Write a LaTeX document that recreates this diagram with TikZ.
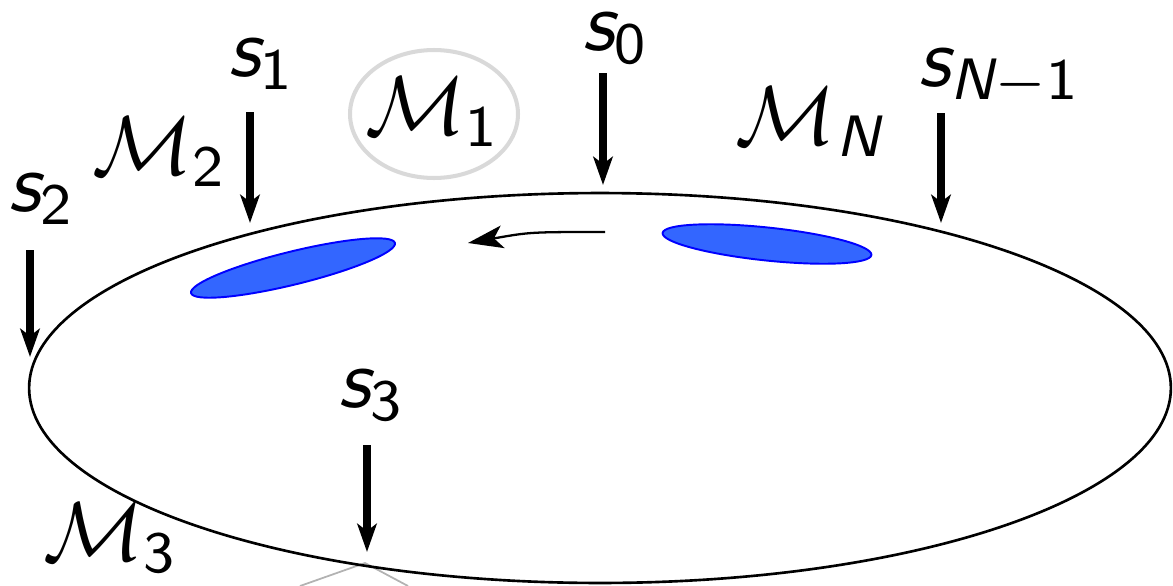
\documentclass[tikz,border=0pt]{standalone}
\usepackage{amsmath,amssymb}
\usepackage{xcolor}
\usepackage{tikz}
\usetikzlibrary{positioning, calc, arrows.meta, shapes.geometric}

\definecolor{blobblue}{RGB}{51,102,255}
\newcommand{\svar}{\textsf{\slshape s}}

\begin{document}
\begin{tikzpicture}[x=0.02cm, y=-0.02cm,
    lbl/.style={scale=4.75, inner sep=0pt},
    feed/.style={line width=4.5pt, -{Stealth[length=16pt, width=11pt, inset=4pt]}},
    blob/.style={ellipse, draw=blue, fill=blobblue, line width=1.1pt,
                 minimum width=4.2cm, minimum height=0.66cm, inner sep=0pt},
    ring/.style={ellipse, draw=black!15, line width=2.3pt,
                 minimum width=3.36cm, minimum height=2.56cm, inner sep=0pt}]

    % Page frame
    \useasboundingbox (0,0) rectangle (1173,585);

    % Gray corner peeking in at the bottom
    \coordinate (g1) at (300,586);
    \coordinate (g2) at (365,563);
    \coordinate (g3) at (408,586);
    \draw[black!30, line width=1pt] (g1) -- (g2) -- (g3);

    % Main orbit
    \node[ellipse, draw, line width=1.5pt, minimum width=22.84cm,
          minimum height=7.8cm, inner sep=0pt] (orbit) at (600,388) {};

    % Blue blobs on the orbit
    \node[blob, rotate=13.8] (blobL) at (293,268) {};
    \node[blob, rotate=-6] (blobR) at (767,244) {};

    % Direction of travel
    \coordinate (flowA) at (605,232);
    \coordinate (flowB) at (468,243);
    \draw[line width=1.3pt, -{Stealth[length=20pt, width=13pt, inset=5pt]}]
        (flowA) .. controls (530,232) .. (flowB);

    % Region labels
    \node[ring] (ring1) at (434,114) {};
    \node[lbl] (m1) at (433,112) {$\mathcal{M}_{\mathsf{1}}$};
    \node[lbl] (m2) at (160,152) {$\mathcal{M}_{\mathsf{2}}$};
    \node[lbl] (m3) at (111,538) {$\mathcal{M}_{\mathsf{3}}$};
    \node[lbl] (mN) at (810,122) {$\mathcal{M}_{\textsf{\slshape N}}$};

    % Sensor labels
    \node[lbl] (s0) at (616,38) {$\svar_{\mathsf{0}}$};
    \node[lbl] (s1) at (262,64) {$\svar_{\mathsf{1}}$};
    \node[lbl] (s2) at (42,199) {$\svar_{\mathsf{2}}$};
    \node[lbl] (s3) at (372,395) {$\svar_{\mathsf{3}}$};
    \node[lbl] (sN) at (1000,77) {$\svar_{\textsf{\slshape N}-\mathsf{1}}$};

    % Sensor arrows down onto the orbit
    \coordinate (s0top) at (603,73);   \coordinate (s0hit) at (603,185);
    \coordinate (s1top) at (250,112);  \coordinate (s1hit) at (250,223);
    \coordinate (s2top) at (30,250);   \coordinate (s2hit) at (30,357);
    \coordinate (s3top) at (367,445);  \coordinate (s3hit) at (367,552);
    \coordinate (sNtop) at (941,113);  \coordinate (sNhit) at (941,223);
    \draw[feed] (s0top) -- (s0hit);
    \draw[feed] (s1top) -- (s1hit);
    \draw[feed] (s2top) -- (s2hit);
    \draw[feed] (s3top) -- (s3hit);
    \draw[feed] (sNtop) -- (sNhit);

\end{tikzpicture}
\end{document}
